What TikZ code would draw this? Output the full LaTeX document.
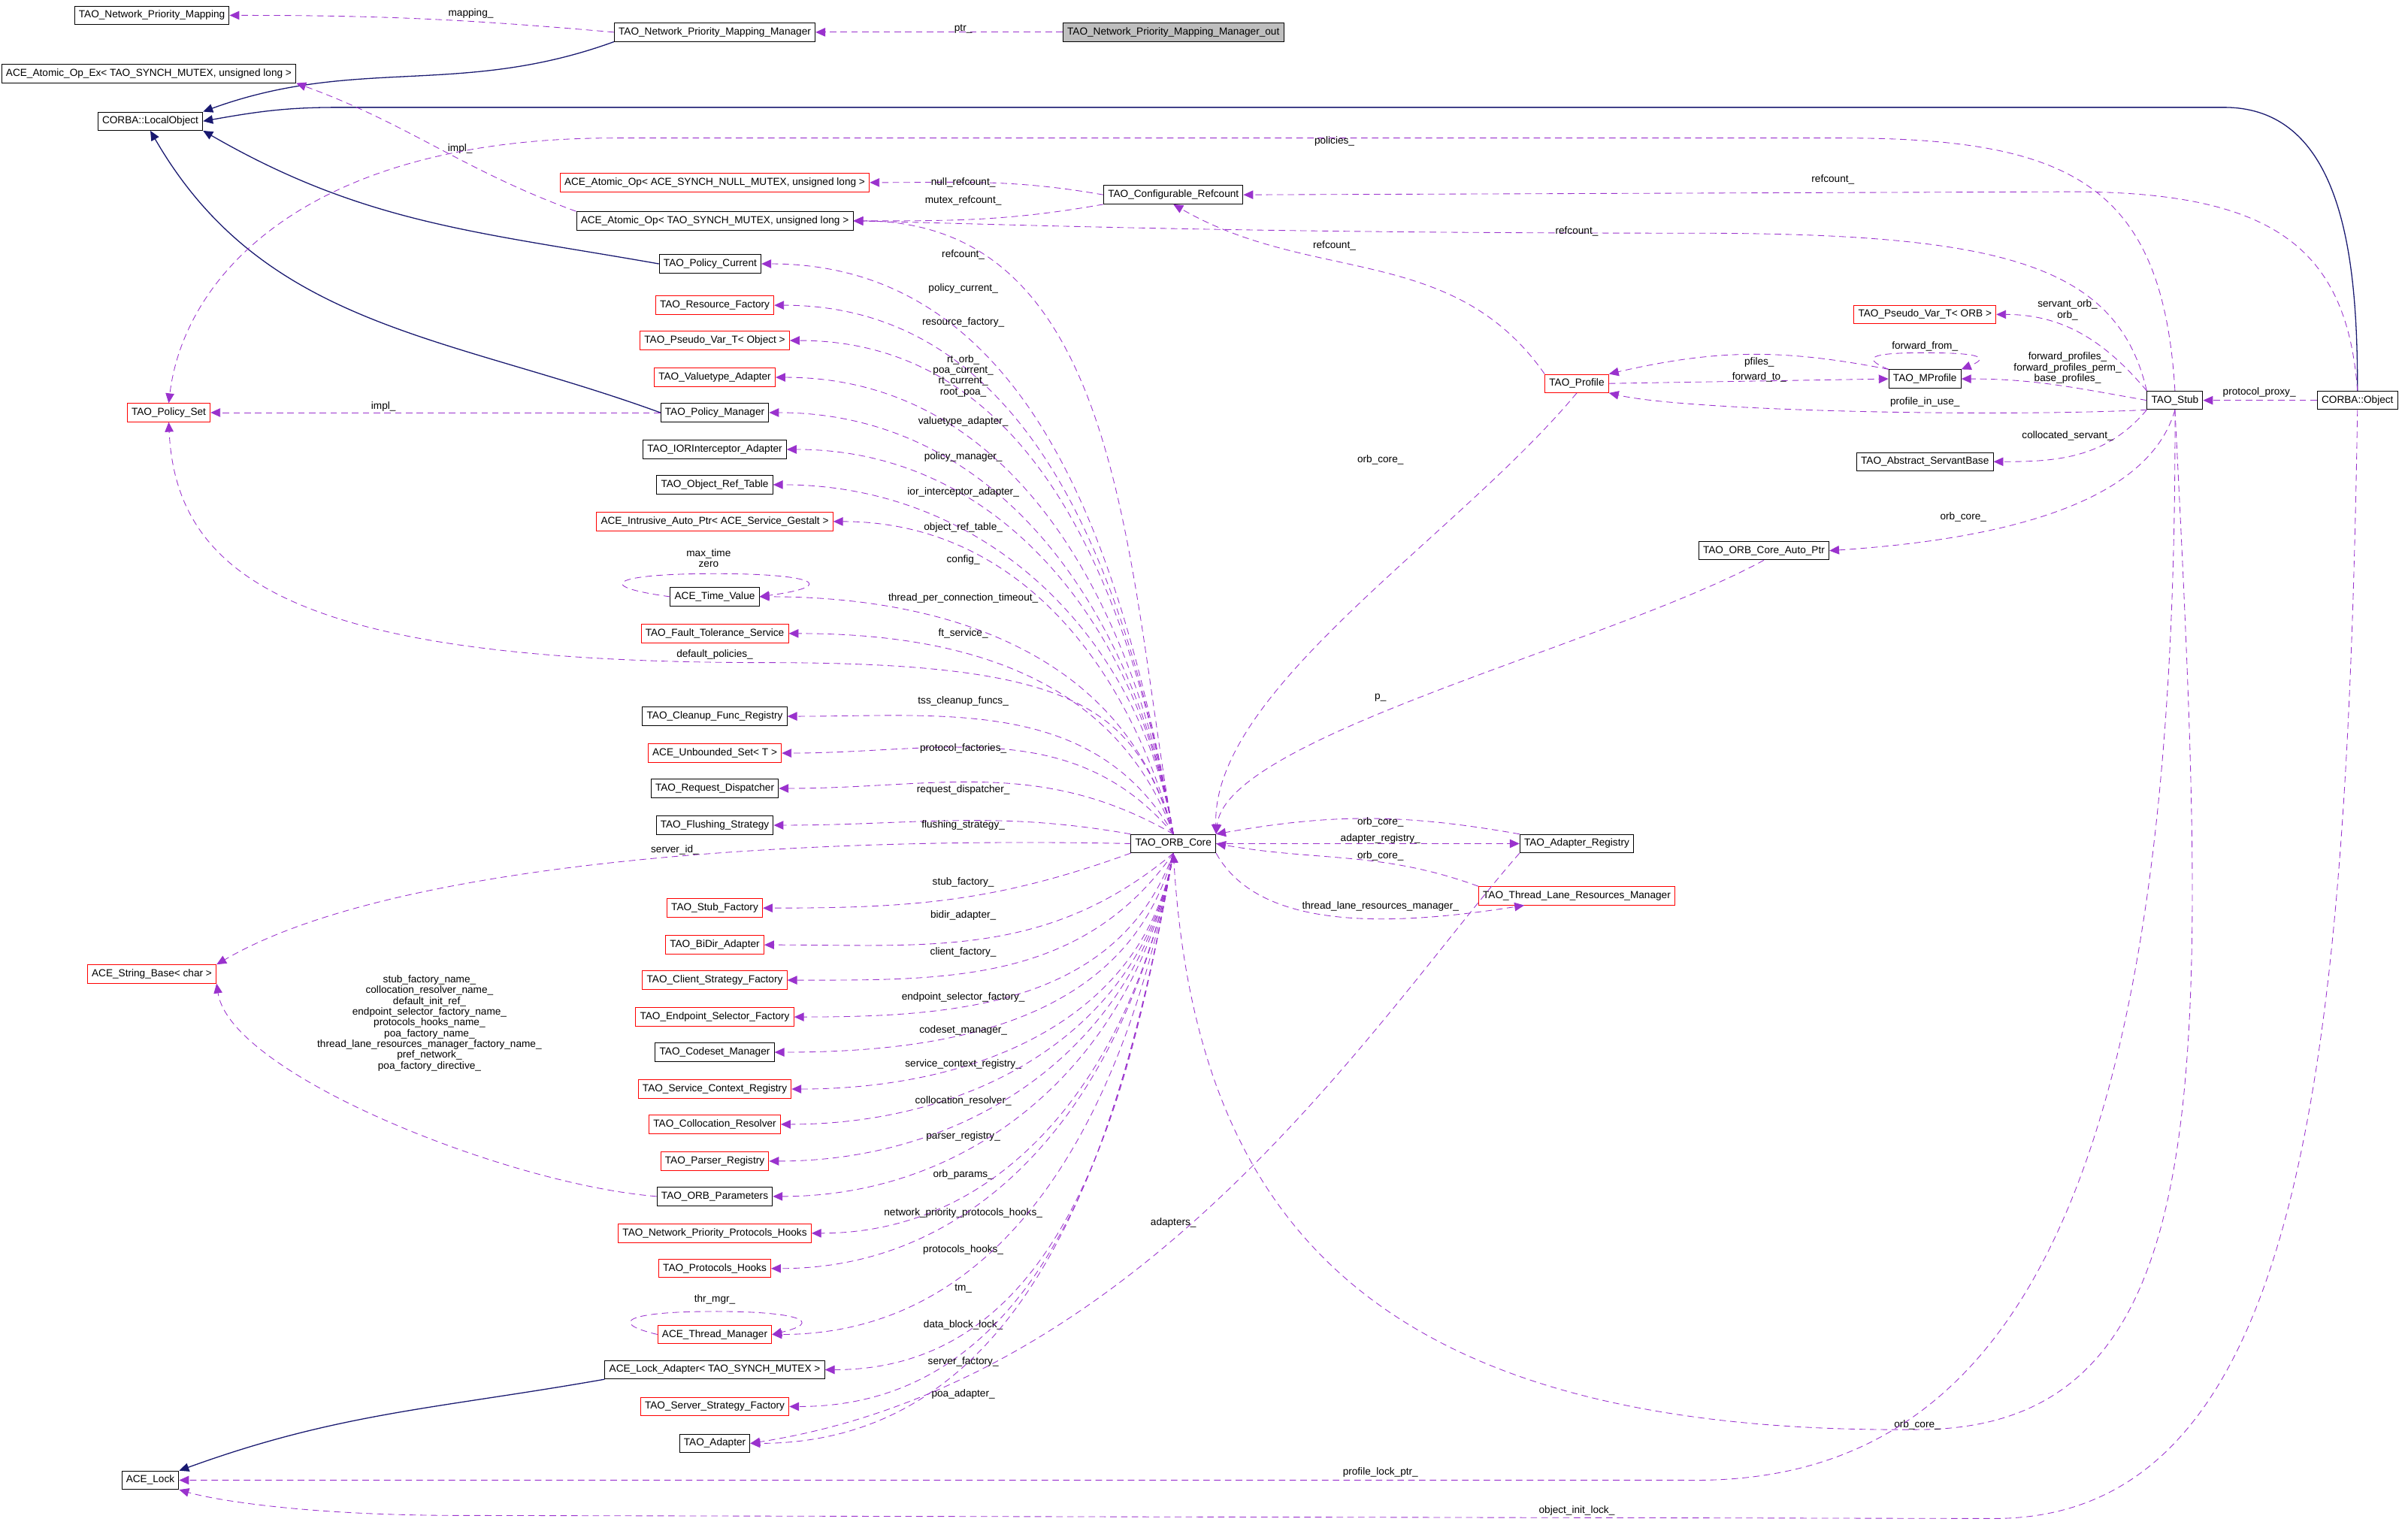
\documentclass[tikz,border=0pt]{standalone}
\usepackage{fontspec}
\setmainfont{Liberation Sans}
\usepackage{tikz}
\usetikzlibrary{positioning, arrows.meta, calc}

\definecolor{depcol}{HTML}{9A32CD}
\definecolor{inhcol}{HTML}{191970}
\definecolor{outfill}{HTML}{BFBFBF}

\tikzset{
  cls/.style={draw=black, fill=white, line width=0.7pt, font=\fontsize{9.5}{11}\selectfont, inner xsep=4pt, inner ysep=2pt, minimum height=17pt},
  rcls/.style={cls, draw=red},
  dep/.style={draw=depcol, line width=0.6pt, dash pattern=on 6pt off 4pt, -{Stealth[length=9pt,width=8pt,inset=0pt,fill=depcol]}},
  inh/.style={draw=inhcol, line width=0.9pt, -{Stealth[length=9pt,width=8pt,inset=0pt,fill=inhcol]}},
  lbl/.style={font=\fontsize{9.5}{10}\selectfont, inner sep=1pt, align=center}
}

\begin{document}
\begin{tikzpicture}[x=0.05cm, y=-0.05cm]
\useasboundingbox (0,0) rectangle (1568,1004);

% left column
\node[cls](npm) at (99,10) {TAO\_Network\_Priority\_Mapping};
\node[cls](aopex) at (97,48) {ACE\_Atomic\_Op\_Ex< TAO\_SYNCH\_MUTEX, unsigned long >};
\node[cls](lobj) at (98,79) {CORBA::LocalObject};
\node[rcls](pset) at (110,269) {TAO\_Policy\_Set};
\node[rcls](sbase) at (99,635) {ACE\_String\_Base< char >};
\node[cls](lock) at (98,965) {ACE\_Lock};

% top
\node[cls](mgr) at (466,21) {TAO\_Network\_Priority\_Mapping\_Manager};
\node[cls, fill=outfill](mgrout) at (765,21) {TAO\_Network\_Priority\_Mapping\_Manager\_out};

% middle column
\node[rcls](aopnull) at (466,119) {ACE\_Atomic\_Op< ACE\_SYNCH\_NULL\_MUTEX, unsigned long >};
\node[cls](aop) at (466,144) {ACE\_Atomic\_Op< TAO\_SYNCH\_MUTEX, unsigned long >};
\node[cls](pcur) at (463,172) {TAO\_Policy\_Current};
\node[rcls](rfac) at (466,199) {TAO\_Resource\_Factory};
\node[rcls](pvobj) at (466,222) {TAO\_Pseudo\_Var\_T< Object >};
\node[rcls](vtad) at (466,246) {TAO\_Valuetype\_Adapter};
\node[cls](pman) at (466,269) {TAO\_Policy\_Manager};
\node[cls](ior) at (466,293) {TAO\_IORInterceptor\_Adapter};
\node[cls](ort) at (466,316) {TAO\_Object\_Ref\_Table};
\node[rcls](iap) at (466,340) {ACE\_Intrusive\_Auto\_Ptr< ACE\_Service\_Gestalt >};
\node[cls](time) at (466,389) {ACE\_Time\_Value};
\node[rcls](ftol) at (466,413) {TAO\_Fault\_Tolerance\_Service};
\node[cls](cfr) at (466,467) {TAO\_Cleanup\_Func\_Registry};
\node[rcls](uset) at (466,491) {ACE\_Unbounded\_Set< T >};
\node[cls](rdisp) at (466,514) {TAO\_Request\_Dispatcher};
\node[cls](flush) at (466,538) {TAO\_Flushing\_Strategy};
\node[rcls](sfac) at (466,592) {TAO\_Stub\_Factory};
\node[rcls](bidir) at (466,616) {TAO\_BiDir\_Adapter};
\node[rcls](csf) at (466,639) {TAO\_Client\_Strategy\_Factory};
\node[rcls](esf) at (466,663) {TAO\_Endpoint\_Selector\_Factory};
\node[cls](csm) at (466,686) {TAO\_Codeset\_Manager};
\node[rcls](scr) at (466,710) {TAO\_Service\_Context\_Registry};
\node[rcls](coll) at (466,733) {TAO\_Collocation\_Resolver};
\node[rcls](parser) at (466,757) {TAO\_Parser\_Registry};
\node[cls](orbp) at (466,780) {TAO\_ORB\_Parameters};
\node[rcls](nph) at (466,804) {TAO\_Network\_Priority\_Protocols\_Hooks};
\node[rcls](phook) at (466,827) {TAO\_Protocols\_Hooks};
\node[rcls](thrm) at (466,870) {ACE\_Thread\_Manager};
\node[cls](lockad) at (466,893) {ACE\_Lock\_Adapter< TAO\_SYNCH\_MUTEX >};
\node[rcls](ssf) at (466,917) {TAO\_Server\_Strategy\_Factory};
\node[cls](adapter) at (466,941) {TAO\_Adapter};

% centre and right
\node[cls](core) at (765,550) {TAO\_ORB\_Core};
\node[cls](cref) at (765,127) {TAO\_Configurable\_Refcount};
\node[rcls](prof) at (1028,250) {TAO\_Profile};
\node[cls](mprof) at (1255,247) {TAO\_MProfile};
\node[rcls](pvorb) at (1255,205) {TAO\_Pseudo\_Var\_T< ORB >};
\node[cls](asb) at (1255,301) {TAO\_Abstract\_ServantBase};
\node[cls](autop) at (1150,359) {TAO\_ORB\_Core\_Auto\_Ptr};
\node[cls](stub) at (1418,261) {TAO\_Stub};
\node[cls](obj) at (1537,261) {CORBA::Object};
\node[cls](adreg) at (1028,550) {TAO\_Adapter\_Registry};
\node[rcls](tlrm) at (1028,584) {TAO\_Thread\_Lane\_Resources\_Manager};

% inheritance
\draw[inh] (mgr.south west) to[out=200,in=20] (lobj.north east);
\draw[inh] (obj.north) to[out=90,in=0] (1450,70) -- (220,70) to[out=180,in=10] (lobj.east);
\draw[inh] (pcur.west) to[out=170,in=-30] (lobj.south east);
\draw[inh] (pman.west) to[out=160,in=-60] (lobj.south);
\draw[inh] (lockad.south west) to[out=190,in=20] (lock.north east);

% members
\draw[dep] (mgr.west) to[out=175,in=0] (npm.east);
\node[lbl] at (307,9) {mapping\_};
\draw[dep] (mgrout.west) -- (mgr.east);
\node[lbl] at (628,19) {ptr\_};
\draw[dep] (aop.north west) to[out=160,in=-20] (aopex.south east);
\node[lbl] at (300,97) {impl\_};
\draw[dep] (pman.west) -- (pset.east);
\node[lbl] at (250,265) {impl\_};
\draw[dep] (stub.north) .. controls (1410,120) and (1350,90) .. (1200,90) -- (400,90) .. controls (200,90) and (120,180) .. (pset.north);
\node[lbl] at (870,92) {policies\_};
\draw[dep] (core.north) .. controls (740,460) and (700,432) .. (500,432) .. controls (200,432) and (115,380) .. (pset.south);
\node[lbl] at (466,427) {default\_policies\_};
\draw[dep] (cref.west) to[out=170,in=0] (aopnull.east);
\node[lbl] at (628,119) {null\_refcount\_};
\draw[dep] (cref.south west) to[out=190,in=0] (aop.east);
\node[lbl] at (628,131) {mutex\_refcount\_};
\draw[dep] (obj.north) .. controls (1530,160) and (1480,125) .. (1350,125) -- (cref.east);
\node[lbl] at (1195,117) {refcount\_};
\draw[dep] (stub.north west) .. controls (1380,170) and (1300,152) .. (1100,152) .. controls (800,152) and (650,146) .. (aop.east);
\node[lbl] at (1028,151) {refcount\_};
\draw[dep] (prof.north west) to[out=125,in=-30] (cref.south);
\node[lbl] at (870,160) {refcount\_};

% fan out of the ORB core
\foreach \t/\a/\o/\ly/\txt in {
  aop/north/100/166/refcount\_,
  pcur/north/100/188/policy\_current\_,
  rfac/north/100/210/resource\_factory\_,
  pvobj/north/100/245/{rt\_orb\_\\poa\_current\_\\rt\_current\_\\root\_poa\_},
  vtad/north/100/275/valuetype\_adapter\_,
  pman/north/100/298/policy\_manager\_,
  ior/north/100/321/ior\_interceptor\_adapter\_,
  ort/north/100/344/object\_ref\_table\_,
  iap/north/105/365/config\_,
  time/north/105/390/thread\_per\_connection\_timeout\_,
  ftol/north/110/413/ft\_service\_,
  cfr/north/120/457/tss\_cleanup\_funcs\_,
  uset/north/130/488/protocol\_factories\_,
  rdisp/north/150/515/request\_dispatcher\_,
  flush/north west/170/538/flushing\_strategy\_,
  sfac/south west/200/575/stub\_factory\_,
  bidir/south/220/597/bidir\_adapter\_,
  csf/south/235/621/client\_factory\_,
  esf/south/250/650/endpoint\_selector\_factory\_,
  csm/south/255/672/codeset\_manager\_,
  scr/south/260/694/service\_context\_registry\_,
  coll/south/260/718/collocation\_resolver\_,
  parser/south/260/741/parser\_registry\_,
  orbp/south/260/766/orb\_params\_,
  nph/south/260/791/network\_priority\_protocols\_hooks\_,
  phook/south/260/815/protocols\_hooks\_,
  thrm/south/260/840/tm\_,
  lockad/south/260/864/data\_block\_lock\_,
  ssf/south/260/888/server\_factory\_,
  adapter/south/260/909/poa\_adapter\_}
{
  \draw[dep] (core.\a) to[out=\o,in=0] (\t.east);
  \node[lbl] at (628,\ly) {\txt};
}

\draw[dep] (time.west) .. controls (385,382) and (400,374) .. (466,374) .. controls (532,374) and (547,382) .. (time.east);
\node[lbl] at (462,364) {max\_time\\zero};
\draw[dep] (thrm.west) .. controls (395,862) and (410,855) .. (466,855) .. controls (522,855) and (537,862) .. (thrm.east);
\node[lbl] at (466,847) {thr\_mgr\_};
\draw[dep] (orbp.west) .. controls (330,772) and (150,700) .. (sbase.south east);
\node[lbl] at (280,667) {stub\_factory\_name\_\\collocation\_resolver\_name\_\\default\_init\_ref\_\\endpoint\_selector\_factory\_name\_\\protocols\_hooks\_name\_\\poa\_factory\_name\_\\thread\_lane\_resources\_manager\_factory\_name\_\\pref\_network\_\\poa\_factory\_directive\_};
\draw[dep] (core.west) .. controls (500,545) and (250,565) .. (sbase.north east);
\node[lbl] at (440,554) {server\_id\_};
\draw[dep] (adreg.south west) .. controls (900,660) and (750,900) .. (adapter.east);
\node[lbl] at (765,797) {adapters\_};
\draw[dep] (adreg.north west) to[bend right=10] (core.north east);
\node[lbl] at (900,536) {orb\_core\_};
\draw[dep] (core.east) -- (adreg.west);
\node[lbl] at (900,547) {adapter\_registry\_};
\draw[dep] (tlrm.north west) to[out=160,in=-10] (core.east);
\node[lbl] at (900,558) {orb\_core\_};
\draw[dep] (core.south east) .. controls (820,605) and (900,605) .. ($(tlrm.south west)+(30,0)$);
\node[lbl] at (900,591) {thread\_lane\_resources\_manager\_};
\draw[dep] (prof.south) .. controls (950,350) and (790,450) .. (core.north east);
\node[lbl] at (900,300) {orb\_core\_};
\draw[dep] (autop.south) .. controls (1050,420) and (800,480) .. (core.north east);
\node[lbl] at (900,455) {p\_};
\draw[dep] (stub.south) .. controls (1400,330) and (1300,352) .. (autop.east);
\node[lbl] at (1280,337) {orb\_core\_};
\draw[dep] (stub.south) .. controls (1440,700) and (1450,932) .. (1250,932) .. controls (900,935) and (780,800) .. (core.south);
\node[lbl] at (1250,929) {orb\_core\_};
\draw[dep] (stub.south) .. controls (1420,800) and (1300,968) .. (1100,965) -- (lock.east);
\node[lbl] at (900,960) {profile\_lock\_ptr\_};
\draw[dep] (obj.south) .. controls (1530,700) and (1500,990) .. (1300,990) -- (300,988) .. controls (200,988) and (140,978) .. (lock.south east);
\node[lbl] at (1028,985) {object\_init\_lock\_};
\draw[dep] (mprof.north west) to[bend right=12] (prof.north east);
\node[lbl] at (1147,236) {pfiles\_};
\draw[dep] (prof.east) -- (mprof.west);
\node[lbl] at (1147,246) {forward\_to\_};
\draw[dep] (mprof.north west) .. controls (1210,232) and (1225,230) .. (1255,230) .. controls (1285,230) and (1300,232) .. (mprof.north east);
\node[lbl] at (1255,226) {forward\_from\_};
\draw[dep] (stub.west) to[out=170,in=0] (mprof.east);
\node[lbl] at (1348,240) {forward\_profiles\_\\forward\_profiles\_perm\_\\base\_profiles\_};
\draw[dep] (stub.south west) .. controls (1300,272) and (1100,268) .. (prof.south east);
\node[lbl] at (1255,262) {profile\_in\_use\_};
\draw[dep] (stub.north west) to[out=130,in=0] (pvorb.east);
\node[lbl] at (1348,202) {servant\_orb\_\\orb\_};
\draw[dep] (stub.south west) to[out=230,in=0] (asb.east);
\node[lbl] at (1348,284) {collocated\_servant\_};
\draw[dep] (obj.west) -- (stub.east);
\node[lbl] at (1473,256) {protocol\_proxy\_};
\end{tikzpicture}
\end{document}
